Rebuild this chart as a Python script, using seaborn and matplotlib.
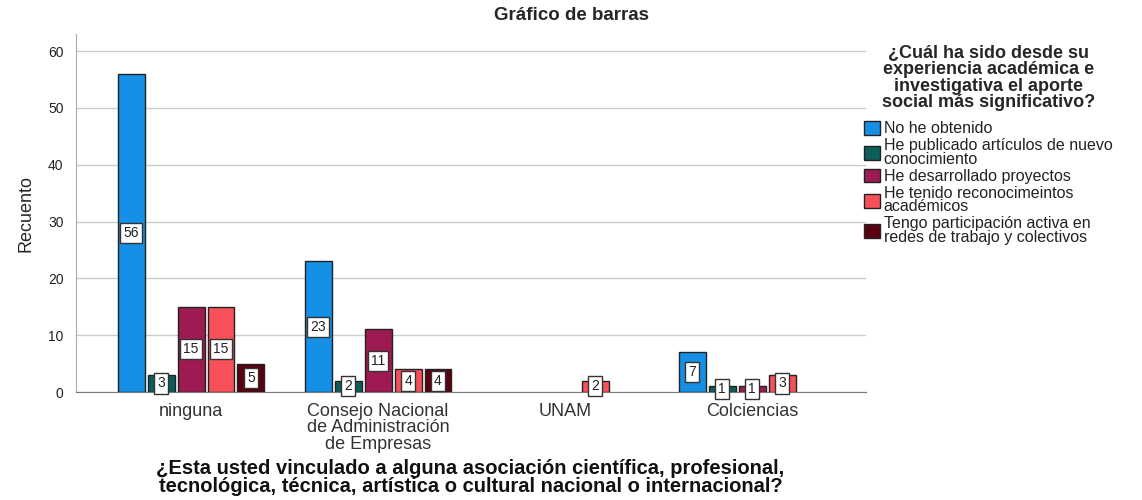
import pandas as pd
import matplotlib
matplotlib.use('Agg')
import matplotlib.pyplot as plt
import seaborn as sns

# === DATA ===
CATEGORIES = ['ninguna', 'Consejo Nacional\nde Administración\nde Empresas',
              'UNAM', 'Colciencias']
SERIES = ['No he obtenido',
          'He publicado artículos de nuevo\nconocimiento',
          'He desarrollado proyectos',
          'He tenido reconocimeintos\nacadémicos',
          'Tengo participación activa en\nredes de trabajo y colectivos']
NO_OBTENIDO = [56, 23, 0, 7]
PUBLICADO = [3, 2, 0, 1]
PROYECTOS = [15, 11, 0, 1]
RECONOCIMIENTOS = [15, 4, 2, 3]
PARTICIPACION = [5, 4, 0, 0]
COLORS = ['#1590e6', '#0b5e5a', '#9e1a52', '#f8505a', '#5a0010']

TITLE = 'Gráfico de barras'
XLABEL = ('¿Esta usted vinculado a alguna asociación científica, profesional,\n'
          'tecnológica, técnica, artística o cultural nacional o internacional?')
YLABEL = 'Recuento'
LEGEND_TITLE = ('¿Cuál ha sido desde su\nexperiencia académica e\n'
                'investigativa el aporte\nsocial más significativo?')
# === END DATA ===

sns.set_style('white')
plt.rcParams['font.family'] = ['Liberation Sans', 'DejaVu Sans']

rows = []
for s, vals in zip(SERIES, [NO_OBTENIDO, PUBLICADO, PROYECTOS,
                            RECONOCIMIENTOS, PARTICIPACION]):
    for c, v in zip(CATEGORIES, vals):
        if v > 0:  # SPSS leaves empty cells out
            rows.append({'cat': c, 'serie': s, 'n': v})
df = pd.DataFrame(rows)

fig = plt.figure(figsize=(11.42, 5.0), dpi=100)
ax = fig.add_axes([0.0666, 0.216, 0.692, 0.716])

sns.barplot(data=df, x='cat', y='n', hue='serie', order=CATEGORIES,
            hue_order=SERIES, palette=COLORS, saturation=1, width=0.8,
            gap=0.1, edgecolor='#222222', linewidth=1, ax=ax,
            errorbar=None, legend=False, zorder=3)

for cont in ax.containers:
    ax.bar_label(cont, fmt='%d', label_type='center', fontsize=10,
                 color='#222222',
                 bbox=dict(boxstyle='square,pad=0.22', fc='white',
                           ec='#333333', lw=1), zorder=5)

ax.set_xlim(-0.615, 3.61)
ax.set_ylim(0, 63)
ax.set_yticks(range(0, 61, 10))
ax.grid(axis='y', color='#cccccc', lw=1, zorder=0)
ax.set_axisbelow(True)
for sp in ['top', 'right']:
    ax.spines[sp].set_visible(False)
ax.spines['left'].set_color('#aaaaaa')
ax.spines['bottom'].set_color('#777777')
ax.tick_params(axis='y', length=6, color='#aaaaaa', labelsize=10,
               labelcolor='#222222', pad=3)
ax.tick_params(axis='x', length=0, labelsize=13, labelcolor='#333333', pad=8)
for t in ax.get_xticklabels():
    t.set_linespacing(0.95)

ax.set_xlabel('')
ax.set_ylabel(YLABEL, fontsize=13, labelpad=10)
fig.text(0.412, 0.045, XLABEL, ha='center', va='center', fontsize=14.5,
         fontweight='bold', linespacing=0.95, color='#111111')
fig.suptitle(TITLE, x=0.5, y=0.985, fontsize=13.5, fontweight='bold')

handles = [plt.Rectangle((0, 0), 1, 1, fc=c, ec='#222222', lw=1)
           for c in COLORS]
leg = fig.legend(handles, SERIES, title=LEGEND_TITLE, loc='upper left',
                 bbox_to_anchor=(0.757, 0.91), frameon=False,
                 fontsize=11.5, handlelength=0.95, handleheight=0.95,
                 handletextpad=0.25, labelspacing=0.12, alignment='center',
                 borderaxespad=0, borderpad=0)
leg._legend_box.sep = 7
title = leg.get_title()
title.set_fontsize(13)
title.set_fontweight('bold')
title.set_linespacing(0.95)
title.set_multialignment('center')
for t in leg.get_texts():
    t.set_linespacing(0.88)
    t.set_color('#222222')

plt.savefig('out.png', dpi=100)
plt.close()
